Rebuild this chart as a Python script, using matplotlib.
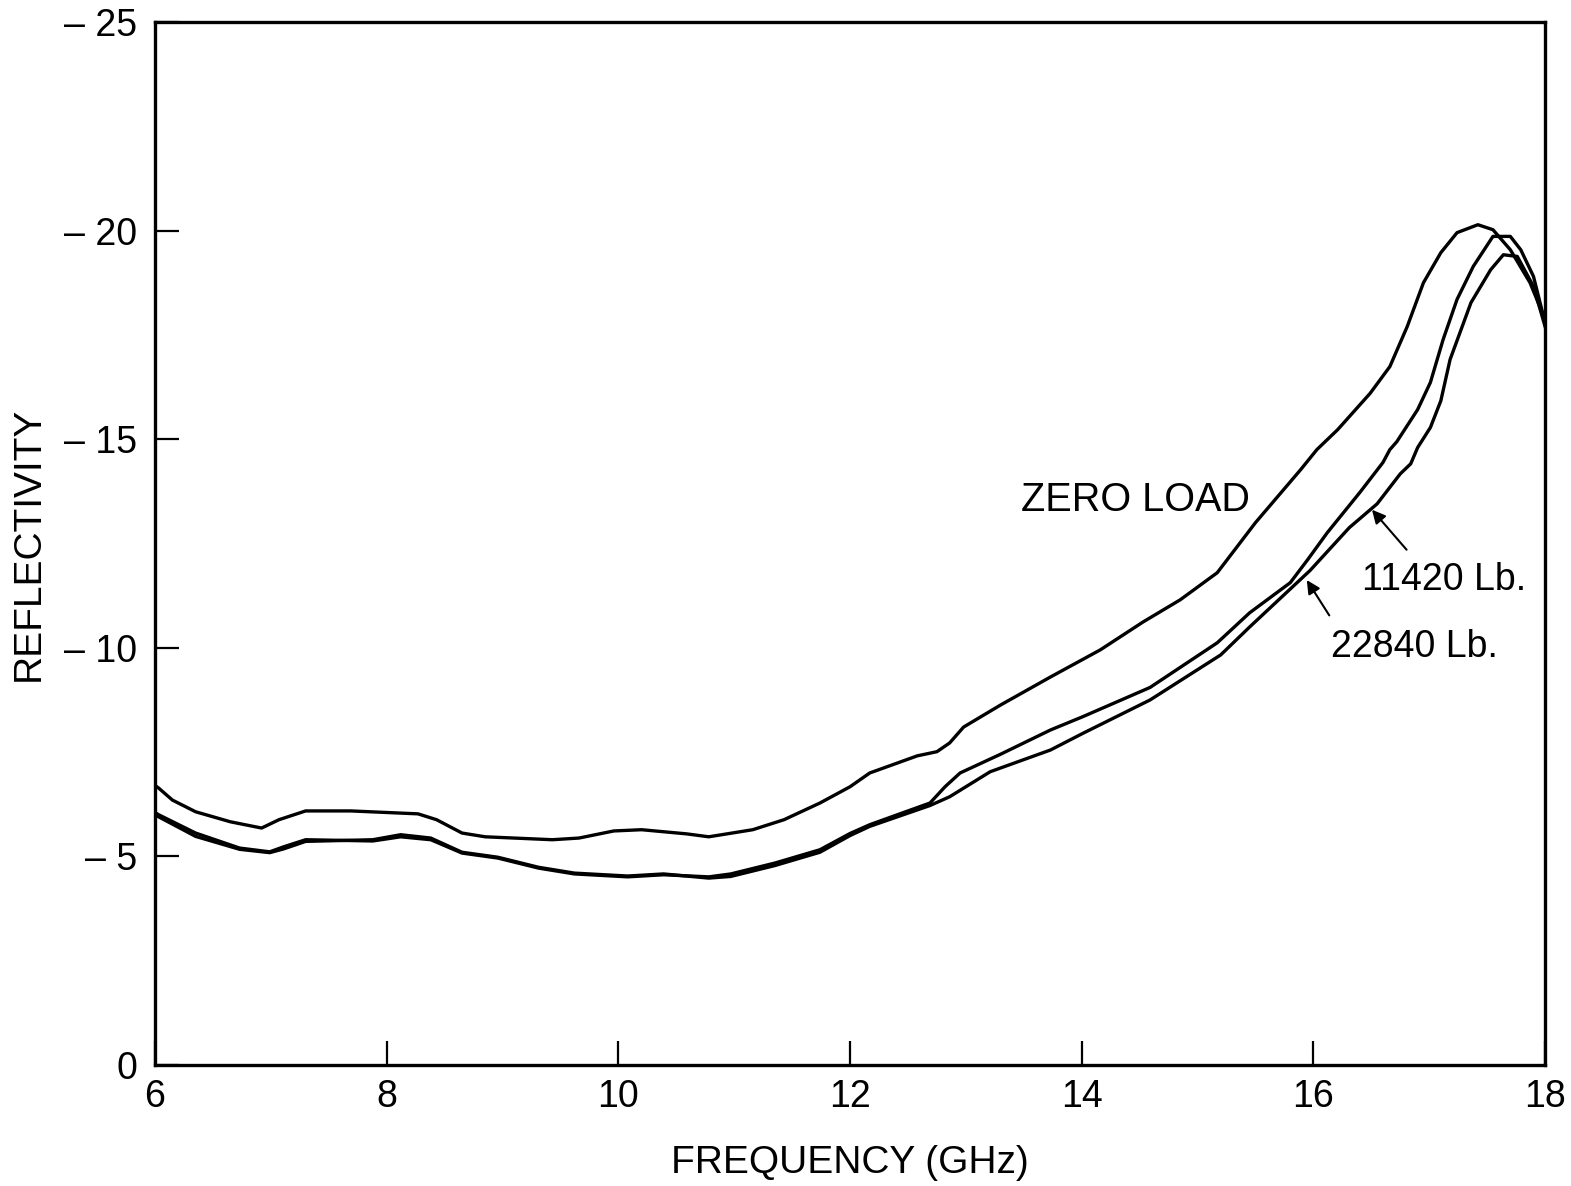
import matplotlib
matplotlib.use("Agg")
import matplotlib.pyplot as plt
import numpy as np

plt.rcParams['font.family'] = ['Liberation Sans', 'DejaVu Sans']

# zero load curve (frequency GHz, reflectivity)
freq_zero = [6.00, 6.03, 6.15, 6.35, 6.65, 6.92, 7.07, 7.30, 7.69, 8.27, 8.43, 8.65, 8.85,
             9.43, 9.66, 9.96, 10.20, 10.59, 10.78, 11.16, 11.43, 11.74, 12.00, 12.17,
             12.58, 12.75, 12.86, 12.98, 13.30, 13.73, 14.16, 14.53, 14.85, 15.17, 15.50,
             15.89, 16.03, 16.21, 16.49, 16.66, 16.81, 16.95, 17.10, 17.24, 17.42, 17.55,
             17.70, 17.87, 18.00]
refl_zero = [-6.70, -6.64, -6.35, -6.07, -5.83, -5.68, -5.88, -6.09, -6.09, -6.02, -5.88,
             -5.56, -5.47, -5.40, -5.44, -5.61, -5.64, -5.54, -5.47, -5.64, -5.88, -6.28,
             -6.67, -7.00, -7.41, -7.51, -7.72, -8.10, -8.63, -9.30, -9.95, -10.62, -11.15,
             -11.80, -13.00, -14.27, -14.75, -15.23, -16.10, -16.74, -17.70, -18.75, -19.47,
             -19.95, -20.14, -20.02, -19.54, -18.75, -17.87]

# 22840 Lb. curve
freq_22840 = [6.00, 6.03, 6.35, 6.73, 6.99, 7.11, 7.30, 7.88, 8.12, 8.38, 8.65, 8.96, 9.31,
              9.62, 10.08, 10.39, 10.78, 10.97, 11.35, 11.74, 12.00, 12.17, 12.69, 12.82,
              12.95, 13.30, 13.73, 14.01, 14.59, 15.17, 15.45, 15.80, 15.95, 16.12, 16.40,
              16.60, 16.66, 16.72, 16.90, 17.01, 17.12, 17.24, 17.38, 17.55, 17.70, 17.79,
              17.90, 18.00]
refl_22840 = [-6.05, -6.00, -5.56, -5.20, -5.11, -5.23, -5.40, -5.37, -5.47, -5.40, -5.08,
              -4.96, -4.72, -4.58, -4.51, -4.56, -4.51, -4.58, -4.84, -5.16, -5.55, -5.76,
              -6.28, -6.67, -7.00, -7.45, -8.03, -8.35, -9.05, -10.12, -10.84, -11.56,
              -12.11, -12.76, -13.72, -14.44, -14.75, -14.94, -15.71, -16.36, -17.39, -18.35,
              -19.14, -19.86, -19.86, -19.54, -18.90, -17.79]

# 11420 Lb. curve
freq_11420 = [6.00, 6.03, 6.35, 6.73, 6.99, 7.11, 7.30, 7.88, 8.12, 8.38, 8.65, 8.96, 9.31,
              9.62, 10.08, 10.39, 10.78, 10.97, 11.35, 11.74, 12.00, 12.17, 12.69, 12.86,
              13.21, 13.73, 14.01, 14.59, 15.20, 15.45, 15.97, 16.31, 16.55, 16.75, 16.84,
              16.90, 17.01, 17.10, 17.18, 17.36, 17.53, 17.64, 17.76, 17.90, 18.00]
refl_11420 = [-6.00, -5.95, -5.48, -5.17, -5.09, -5.18, -5.36, -5.40, -5.52, -5.44, -5.10,
              -4.98, -4.74, -4.60, -4.53, -4.58, -4.48, -4.52, -4.78, -5.10, -5.50, -5.72,
              -6.22, -6.43, -7.03, -7.55, -7.95, -8.75, -9.83, -10.50, -11.85, -12.88,
              -13.45, -14.17, -14.41, -14.80, -15.28, -15.92, -16.91, -18.27, -19.06, -19.42,
              -19.38, -18.66, -17.70]

x_ticks = [6, 8, 10, 12, 14, 16, 18]
y_ticks = [0, -5, -10, -15, -20, -25]
y_tick_labels = ['0', '\u2013 5', '\u2013 10', '\u2013 15', '\u2013 20', '\u2013 25']

fig = plt.figure(figsize=(15.71, 11.86), dpi=100)
ax = fig.add_axes([0.0987, 0.102, 0.8848, 0.8795])

for f, r in [(freq_zero, refl_zero), (freq_22840, refl_22840), (freq_11420, refl_11420)]:
    ax.plot(f, r, color='black', lw=2.4, solid_joinstyle='round')

ax.set_xlim(6, 18)
ax.set_ylim(0, -25)
ax.set_xticks(x_ticks)
ax.set_xticklabels([str(t) for t in x_ticks])
ax.set_yticks(y_ticks)
ax.set_yticklabels(y_tick_labels)
ax.tick_params(direction='in', length=17, width=1.6, labelsize=27, pad=10)
ax.tick_params(axis='y', pad=13)
for s in ax.spines.values():
    s.set_linewidth(2.4)

ax.set_xlabel('FREQUENCY (GHz)', fontsize=28, labelpad=22)
ax.set_ylabel('REFLECTIVITY', fontsize=28, labelpad=12)

ax.text(14.46, -13.55, 'ZERO LOAD', fontsize=28.5, ha='center', va='center')
ax.annotate('11420 Lb.', xy=(16.49, -13.36), xytext=(16.42, -11.63), fontsize=27,
            ha='left', va='center')
ax.annotate('', xy=(16.49, -13.36), xytext=(16.82, -12.30),
            arrowprops=dict(arrowstyle='-|>', color='black', lw=1.5, mutation_scale=20))
ax.annotate('22840 Lb.', xy=(15.93, -11.68), xytext=(16.15, -10.02), fontsize=27,
            ha='left', va='center')
ax.annotate('', xy=(15.93, -11.68), xytext=(16.15, -10.72),
            arrowprops=dict(arrowstyle='-|>', color='black', lw=1.5, mutation_scale=20))

fig.savefig('out.png', dpi=100)
